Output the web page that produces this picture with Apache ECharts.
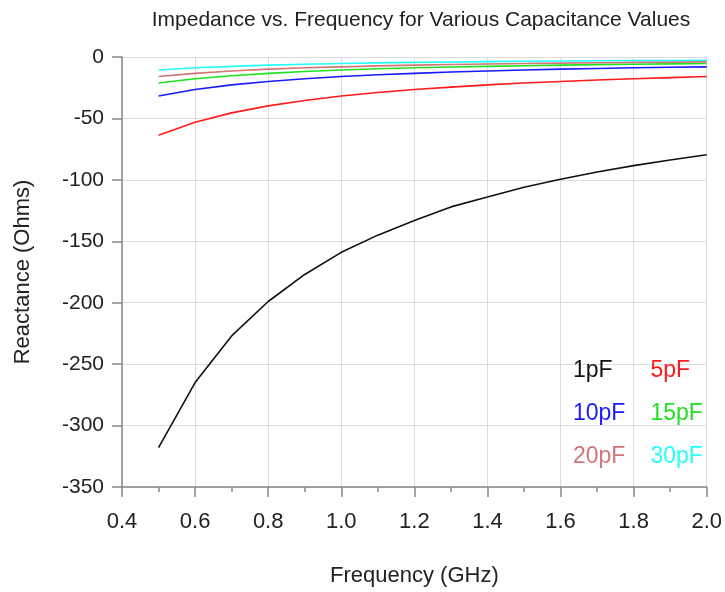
<!DOCTYPE html>
<html>
<head>
<meta charset="utf-8">
<script src="https://cdn.jsdelivr.net/npm/echarts@6/dist/echarts.min.js"></script>
<style>
  html, body { margin: 0; padding: 0; background: #fff; }
  #chart { width: 725px; height: 592px; }
</style>
</head>
<body>
<div id="chart"></div>
<script>
// frequency points (GHz)
const freq = [0.5, 0.6, 0.7, 0.8, 0.9, 1.0, 1.1, 1.2, 1.3, 1.4, 1.5, 1.6, 1.7, 1.8, 1.9, 2.0];

// reactance (Ohms)
const x1pF = [-318, -265, -227, -199, -177, -159, -145, -133, -122, -114, -106, -99.5, -93.6, -88.4, -83.8, -79.6];
const x5pF = [-63.7, -53.1, -45.5, -39.8, -35.4, -31.8, -28.9, -26.5, -24.5, -22.7, -21.2, -19.9, -18.7, -17.7, -16.8, -15.9];
const x10pF = [-31.8, -26.5, -22.7, -19.9, -17.7, -15.9, -14.5, -13.3, -12.2, -11.4, -10.6, -9.9, -9.4, -8.8, -8.4, -8.0];
const x15pF = [-21.2, -17.7, -15.2, -13.3, -11.8, -10.6, -9.6, -8.8, -8.2, -7.6, -7.1, -6.6, -6.2, -5.9, -5.6, -5.3];
const x20pF = [-15.9, -13.3, -11.4, -9.9, -8.8, -8.0, -7.2, -6.6, -6.1, -5.7, -5.3, -5.0, -4.7, -4.4, -4.2, -4.0];
const x30pF = [-10.6, -8.8, -7.6, -6.6, -5.9, -5.3, -4.8, -4.4, -4.1, -3.8, -3.5, -3.3, -3.1, -2.9, -2.8, -2.7];

const seriesDefs = [
  { name: "1pF", data: x1pF, color: "#111111" },
  { name: "5pF", data: x5pF, color: "#ff1a1a" },
  { name: "10pF", data: x10pF, color: "#1a1aff" },
  { name: "15pF", data: x15pF, color: "#22e022" },
  { name: "20pF", data: x20pF, color: "#d27575" },
  { name: "30pF", data: x30pF, color: "#22ffff" },
];
// legend order: column by column
const legendOrder = ["1pF", "10pF", "20pF", "5pF", "15pF", "30pF"];

const font = "'Liberation Sans Narrow', 'Liberation Sans', Arial, sans-serif";
const chart = echarts.init(document.getElementById("chart"));

chart.setOption({
  animation: false,
  title: {
    text: "Impedance vs. Frequency for Various Capacitance Values",
    left: 416,
    textAlign: "center",
    top: 5,
    textStyle: { fontFamily: font, fontSize: 21, fontWeight: "normal", color: "#222" },
  },
  grid: { left: 122, right: 18, top: 57, bottom: 105 },
  legend: {
    orient: "vertical",
    left: 563,
    top: 354,
    height: 135,
    itemWidth: 0,
    itemHeight: 0,
    itemGap: 20,
    icon: "none",
    selectedMode: false,
    data: legendOrder.map((n) => {
      const s = seriesDefs.find((d) => d.name === n);
      return { name: n, textStyle: { color: s.color } };
    }),
    textStyle: { fontFamily: font, fontSize: 23 },
  },
  xAxis: {
    type: "value",
    min: 0.4,
    max: 2.0,
    interval: 0.2,
    name: "Frequency (GHz)",
    nameLocation: "middle",
    nameGap: 78,
    nameTextStyle: { fontFamily: font, fontSize: 22, color: "#222" },
    axisLine: { onZero: false, lineStyle: { color: "#888", width: 1.5 } },
    axisTick: { length: 10, lineStyle: { color: "#888", width: 1.5 } },
    minorTick: { show: true, splitNumber: 2, length: 5, lineStyle: { color: "#888", width: 1.5 } },
    axisLabel: {
      fontFamily: font, fontSize: 22, color: "#222", margin: 24,
      formatter: (v) => v.toFixed(1),
    },
    splitLine: { show: true, lineStyle: { color: "#dcdcdc", width: 1 } },
  },
  yAxis: {
    type: "value",
    min: -350,
    max: 0,
    interval: 50,
    name: "Reactance (Ohms)",
    nameLocation: "middle",
    nameGap: 88,
    nameTextStyle: { fontFamily: font, fontSize: 22, color: "#222" },
    axisLine: { show: true, onZero: false, lineStyle: { color: "#888", width: 1.5 } },
    axisTick: { show: true, length: 10, lineStyle: { color: "#888", width: 1.5 } },
    axisLabel: { fontFamily: font, fontSize: 21, color: "#222", margin: 18 },
    splitLine: { show: true, lineStyle: { color: "#dcdcdc", width: 1 } },
  },
  series: seriesDefs.map((s) => ({
    name: s.name,
    type: "line",
    data: freq.map((f, i) => [f, s.data[i]]),
    showSymbol: false,
    symbol: "none",
    color: s.color,
    lineStyle: { color: s.color, width: 1.6 },
  })),
});
</script>
</body>
</html>
